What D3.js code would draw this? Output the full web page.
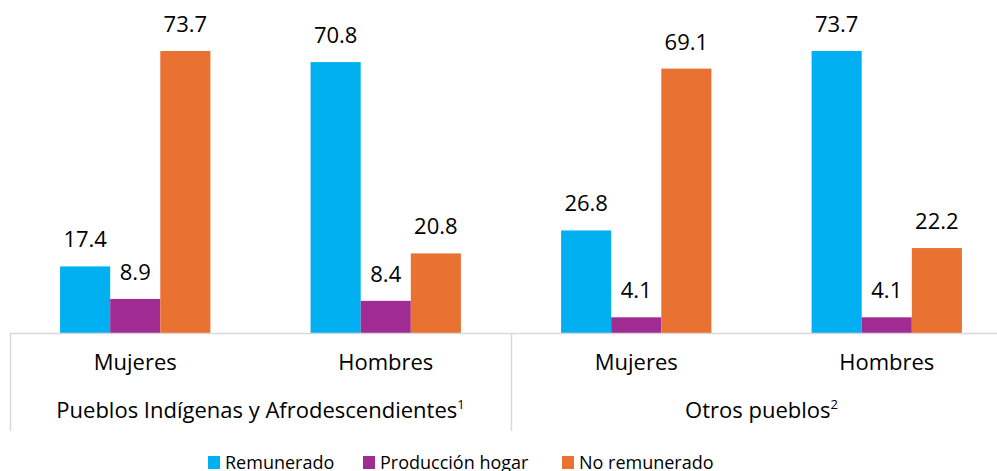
<!DOCTYPE html>
<html>
  <head>
    <meta charset="utf-8">
    <style>
      body { margin: 0; padding: 0; background: #fff; font-family: 'Open Sans', sans-serif; }
      svg { display: block; }
    </style>
  </head>
  <body>
    <div id="chart"></div>
    <script src="https://d3js.org/d3.v7.min.js"></script>
    <script>
      var groups = ["Pueblos Indígenas y Afrodescendientes", "Otros pueblos"],
          groupNotes = ["1", "2"],
          sexes = ["Mujeres", "Hombres"],
          series = ["Remunerado", "Producción hogar", "No remunerado"];

      var remunerado = [17.4, 70.8, 26.8, 73.7],
          produccionHogar = [8.9, 8.4, 4.1, 4.1],
          noRemunerado = [73.7, 20.8, 69.1, 22.2];

      var colors = ["#00b0f0", "#a02b93", "#e97132"];

      var categories = [];
      groups.forEach(function (g, gi) {
        sexes.forEach(function (s, si) {
          categories.push({id: gi + "-" + si, group: gi, sex: s});
        });
      });

      var values = [remunerado, produccionHogar, noRemunerado];

      var width = 997, height = 471;
      var svg = d3.select("#chart").append("svg")
          .attr("width", width)
          .attr("height", height);

      var x = d3.scaleBand()
          .domain(categories.map(d => d.id))
          .range([10, 1012])
          .paddingInner(0)
          .paddingOuter(0);

      var xs = d3.scaleBand()
          .domain(series)
          .range([0, x.bandwidth()])
          .paddingInner(0)
          .paddingOuter(1);

      var baseY = 333;
      var y = d3.scaleLinear()
          .domain([0, 73.7])
          .range([baseY, 51]);

      // bars
      var cat = svg.append("g").selectAll("g")
        .data(categories)
        .enter().append("g")
          .attr("transform", d => "translate(" + x(d.id) + ",0)");

      cat.selectAll("rect")
        .data((d, i) => series.map((s, k) => ({s: s, k: k, v: values[k][i]})))
        .enter().append("rect")
          .attr("x", d => xs(d.s))
          .attr("y", d => y(d.v))
          .attr("width", xs.bandwidth())
          .attr("height", d => baseY - y(d.v))
          .attr("fill", d => colors[d.k]);

      cat.selectAll("text.val")
        .data((d, i) => series.map((s, k) => ({s: s, k: k, v: values[k][i]})))
        .enter().append("text")
          .attr("class", "val")
          .attr("x", d => xs(d.s) + xs.bandwidth() / 2)
          .attr("y", d => y(d.v) - 19)
          .attr("text-anchor", "middle")
          .attr("font-size", "22px")
          .attr("fill", "#000")
          .text(d => d.v.toFixed(1));

      // axis lines
      var lineColor = "#d9d9d9";
      svg.append("line")
        .attr("x1", 10).attr("x2", width)
        .attr("y1", baseY + 0.5).attr("y2", baseY + 0.5)
        .attr("stroke", lineColor).attr("stroke-width", 1.5);

      [10, x(categories[2].id)].forEach(function (px) {
        svg.append("line")
          .attr("x1", px + 0.5).attr("x2", px + 0.5)
          .attr("y1", baseY).attr("y2", 431)
          .attr("stroke", lineColor).attr("stroke-width", 1.5);
      });

      svg.append("g").selectAll("text")
        .data(categories)
        .enter().append("text")
          .attr("x", d => x(d.id) + x.bandwidth() / 2)
          .attr("y", 370)
          .attr("text-anchor", "middle")
          .attr("font-size", "22px")
          .attr("fill", "#000")
          .text(d => d.sex);

      var gLabels = svg.append("g").selectAll("text")
        .data(groups)
        .enter().append("text")
          .attr("x", (d, i) => x(i + "-0") + x.bandwidth())
          .attr("y", 418)
          .attr("text-anchor", "middle")
          .attr("font-size", "22px")
          .attr("fill", "#000");
      gLabels.append("tspan").text(d => d);
      gLabels.append("tspan")
        .attr("font-size", "13px")
        .attr("dy", "-9")
        .text((d, i) => groupNotes[i]);

      // legend
      var legendX = [208, 363, 562];
      var legend = svg.append("g").selectAll("g")
        .data(series)
        .enter().append("g")
          .attr("transform", (d, i) => "translate(" + legendX[i] + ",456)");
      legend.append("rect")
        .attr("width", 12).attr("height", 13)
        .attr("fill", (d, i) => colors[i]);
      legend.append("text")
        .attr("x", 17).attr("y", 13)
        .attr("font-size", "18px")
        .attr("fill", "#000")
        .text(d => d);
    </script>
  </body>
</html>
